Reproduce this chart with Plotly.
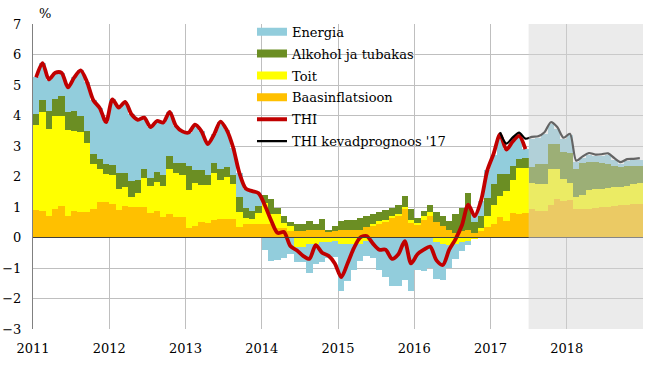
import plotly.graph_objects as go

# ---- data (monthly, Jan 2011 .. Dec 2018) ----
start_year = 2011
n_months = 96
forecast_start = 2017.5  # July 2017

base_actual = [0.90, 0.88, 0.72, 0.95, 1.03, 0.72, 0.86, 0.82, 0.84, 0.93, 1.17, 1.15,
               1.09, 0.90, 1.04, 1.01, 0.99, 0.99, 0.79, 0.87, 0.66, 0.76, 0.68, 0.68,
               0.30, 0.37, 0.51, 0.46, 0.57, 0.60, 0.62, 0.60, 0.35, 0.43, 0.43, 0.45,
               0.45, 0.45, 0.32, 0.32, 0.21, 0.21, 0.21, 0.26, 0.26, 0.26, 0.20, 0.22,
               0.26, 0.26, 0.26, 0.26, 0.35, 0.37, 0.45, 0.54, 0.65, 0.72, 0.94, 0.48,
               0.43, 0.59, 0.70, 0.50, 0.37, 0.26, 0.15, 0.20, 0.25, 0.15, 0.20, 0.35,
               0.45, 0.68, 0.55, 0.80, 0.78, 0.80]
base_fcst = [0.95, 0.87, 0.87, 1.05, 1.27, 1.20, 1.22, 0.93, 0.93, 0.95, 0.97, 1.00,
             1.00, 1.02, 1.05, 1.08, 1.10, 1.10]

food_actual = [2.78, 3.22, 2.83, 3.04, 2.97, 2.80, 2.64, 2.65, 2.27, 1.47, 1.08, 0.93,
               0.96, 0.70, 0.60, 0.33, 0.46, 0.95, 0.89, 0.96, 1.02, 1.47, 1.42, 1.37,
               1.25, 1.43, 1.21, 1.26, 1.53, 1.28, 1.37, 1.15, 0.49, 0.22, 0.19, 0.35,
               0.69, 0.31, 0.44, 0.16, 0.16, -0.30, -0.30, -0.20, -0.20, -0.15, -0.15, -0.10,
               -0.20, -0.20, -0.20, -0.20, -0.12, 0.08, 0.10, 0.03, 0.05, 0.05, 0.05, 0.08,
               0.05, 0.10, 0.12, -0.15, -0.20, -0.25, -0.20, -0.15, -0.10, -0.05, 0.12, 0.35,
               0.63, 0.68, 0.97, 1.10, 1.51, 1.49]
food_fcst = [0.83, 0.88, 0.88, 1.20, 0.96, 0.73, 0.58, 0.41, 0.47, 0.60, 0.61, 0.60,
             0.62, 0.63, 0.62, 0.62, 0.67, 0.68]

alco_actual = [0.36, 0.41, 0.60, 0.56, 0.64, 0.60, 0.65, 0.52, 0.38, 0.33, 0.33, 0.32,
               0.33, 0.50, 0.46, 0.50, 0.42, 0.32, 0.26, 0.32, 0.37, 0.43, 0.34, 0.39,
               0.80, 0.42, 0.50, 0.33, 0.35, 0.38, 0.31, 0.30, 0.49, 0.32, 0.25, 0.23,
               0.24, 0.49, 0.21, 0.22, 0.13, 0.22, 0.22, 0.28, 0.17, 0.35, 0.03, 0.17,
               0.28, 0.33, 0.33, 0.39, 0.35, 0.31, 0.28, 0.33, 0.27, 0.31, 0.37, 0.38,
               0.17, 0.19, 0.23, 0.32, 0.33, 0.29, 0.61, 0.77, 1.22, 0.35, 0.38, 0.60,
               0.66, 0.71, 0.55, 0.44, 0.29, 0.33]
alco_fcst = [0.52, 0.65, 0.65, 0.81, 0.83, 0.87, 0.98, 0.89, 1.03, 0.92, 0.89, 0.85,
             0.80, 0.70, 0.63, 0.64, 0.58, 0.58]

energy_actual = [1.21, 1.21, 1.03, 0.85, 0.76, 0.80, 1.10, 1.49, 1.61, 1.77, 1.67, 1.38,
                 2.15, 2.16, 2.35, 2.20, 1.99, 1.67, 1.68, 1.67, 1.72, 1.46, 1.22, 1.04,
                 1.09, 1.48, 1.27, 1.01, 0.93, 1.54, 1.22, 0.90, 0.77, 0.63, 0.65, 0.42,
                 -0.42, -0.78, -0.75, -0.67, -0.53, -0.51, -0.51, -0.96, -0.66, -0.66, -0.52, -0.55,
                 -1.57, -1.21, -0.86, -0.58, -0.50, -0.68, -1.06, -1.30, -1.60, -1.60, -1.38, -1.74,
                 -1.08, -1.10, -1.00, -1.21, -1.20, -0.75, -0.50, -0.30, -0.15, 0.25, 0.50, 0.90,
                 0.96, 1.28, 0.83, 0.81, 0.75, 0.28]
energy_fcst = [0.93, 0.87, 1.00, 0.67, 0.51, 0.42, 0.57, 0.24, 0.18, 0.25, 0.20, 0.23,
               0.29, 0.20, 0.12, 0.18, 0.18, 0.19]

thi = [5.25, 5.72, 5.18, 5.40, 5.40, 4.92, 5.25, 5.48, 5.10, 4.50, 4.25, 3.78,
       4.53, 4.26, 4.45, 4.04, 3.86, 3.93, 3.62, 3.82, 3.77, 4.12, 3.66, 3.48,
       3.44, 3.70, 3.49, 3.06, 3.38, 3.80, 3.52, 2.95, 2.10, 1.60, 1.52, 1.45,
       1.05, 0.55, 0.15, 0.18, -0.28, -0.42, -0.60, -0.70, -0.25, -0.50, -0.60, -0.85,
       -1.30, -0.85, -0.35, 0.00, 0.05, -0.20, -0.40, -0.40, -0.70, -0.55, -0.12, -0.85,
       -0.55, -0.40, -0.30, -0.75, -0.90, -0.40, -0.05, 0.40, 1.08, 0.70, 1.20, 2.20,
       2.75, 3.38, 2.88, 3.15, 3.33, 2.90]

kevad_start_index = 73  # Feb 2017
kevad = [3.45, 3.08, 3.28, 3.44, 3.24,
         3.30, 3.32, 3.45, 3.78, 3.62, 3.27, 3.40, 2.52, 2.66, 2.77, 2.72, 2.73,
         2.76, 2.60, 2.47, 2.57, 2.58, 2.60]

year_ticks = [2011, 2012, 2013, 2014, 2015, 2016, 2017, 2018, 2019]
year_labels = ["2011", "2012", "2013", "2014", "2015", "2016", "2017", "2018", ""]
y_ticks = [-3, -2, -1, 0, 1, 2, 3, 4, 5, 6, 7]

# ---- build ----
xs = [start_year + (i + 0.5) / 12 for i in range(n_months)]
base = base_actual + base_fcst
food = food_actual + food_fcst
alco = alco_actual + alco_fcst
energy = energy_actual + energy_fcst

C_BASE, C_FOOD, C_ALCO, C_ENER = "#FFC000", "#FFFF00", "#6B8E23", "#92CDDC"
FONT = "DejaVu Serif"

fig = go.Figure()
for name, vals, col in [("Baasinflatsioon", base, C_BASE), ("Toit", food, C_FOOD),
                        ("Alkohol ja tubakas", alco, C_ALCO), ("Energia", energy, C_ENER)]:
    fig.add_trace(go.Bar(x=xs, y=vals, width=1 / 12, name=name, showlegend=False,
                         marker=dict(color=col, line=dict(width=0))))

# legend entries with wide swatches
for rank, (name, col) in enumerate([("Energia", C_ENER), ("Alkohol ja tubakas", C_ALCO),
                                    ("Toit", C_FOOD), ("Baasinflatsioon", C_BASE)]):
    fig.add_trace(go.Scatter(x=[None], y=[None], mode="lines", name=name,
                             line=dict(color=col, width=8), legendrank=rank + 1,
                             legendgroup=name))

fig.add_trace(go.Scatter(x=xs[:len(thi)], y=thi, mode="lines", name="THI",
                         line=dict(color="#C00000", width=3.8, shape="spline", smoothing=0.8),
                         legendrank=5, legendgroup="THI"))
fig.add_trace(go.Scatter(x=xs[kevad_start_index:kevad_start_index + len(kevad)], y=kevad,
                         mode="lines", name="THI kevadprognoos '17",
                         line=dict(color="#000000", width=2.2, shape="spline", smoothing=0.8),
                         legendrank=6, legendgroup="kevad"))

fig.add_shape(type="line", xref="x", yref="y", x0=year_ticks[0], x1=year_ticks[-1], y0=0, y1=0,
              line=dict(color="#404040", width=1), layer="above")
fig.add_shape(type="rect", xref="x", yref="y", x0=forecast_start, x1=year_ticks[-1],
              y0=y_ticks[0], y1=y_ticks[-1], fillcolor="rgba(212,212,212,0.47)",
              line=dict(width=0), layer="above")

fig.add_annotation(text="%", xref="paper", yref="paper", x=0.02, y=1.035,
                   xanchor="center", yanchor="middle", showarrow=False,
                   font=dict(family=FONT, size=13, color="#000"))

fig.update_layout(
    width=661, height=367,
    margin=dict(l=33, r=18, t=24, b=38, autoexpand=False),
    paper_bgcolor="white", plot_bgcolor="white",
    barmode="relative", bargap=0,
    font=dict(family=FONT, size=13, color="#000"),
    legend=dict(x=0.359, y=1.024, xanchor="left", yanchor="top",
                bgcolor="rgba(0,0,0,0)", borderwidth=0, traceorder="grouped",
                tracegroupgap=2, font=dict(family=FONT, size=13, color="#000")),
    xaxis=dict(range=[year_ticks[0], year_ticks[-1]], tickvals=year_ticks, ticktext=year_labels,
               showgrid=True, gridcolor="#BFBFBF", gridwidth=1, zeroline=False, automargin=False,
               showline=False, ticks="", ticklabelstandoff=10, tickfont=dict(family=FONT, size=13)),
    yaxis=dict(range=[y_ticks[0], y_ticks[-1]], tickvals=y_ticks, automargin=False,
               showgrid=True, gridcolor="#BFBFBF", gridwidth=1, zeroline=False,
               showline=True, linecolor="#808080", linewidth=1, ticks="",
               ticklabelstandoff=8, tickfont=dict(family=FONT, size=13)),
)

fig.write_html("out.html", config={"displayModeBar": False},
               post_script="document.body.style.margin='0';")
